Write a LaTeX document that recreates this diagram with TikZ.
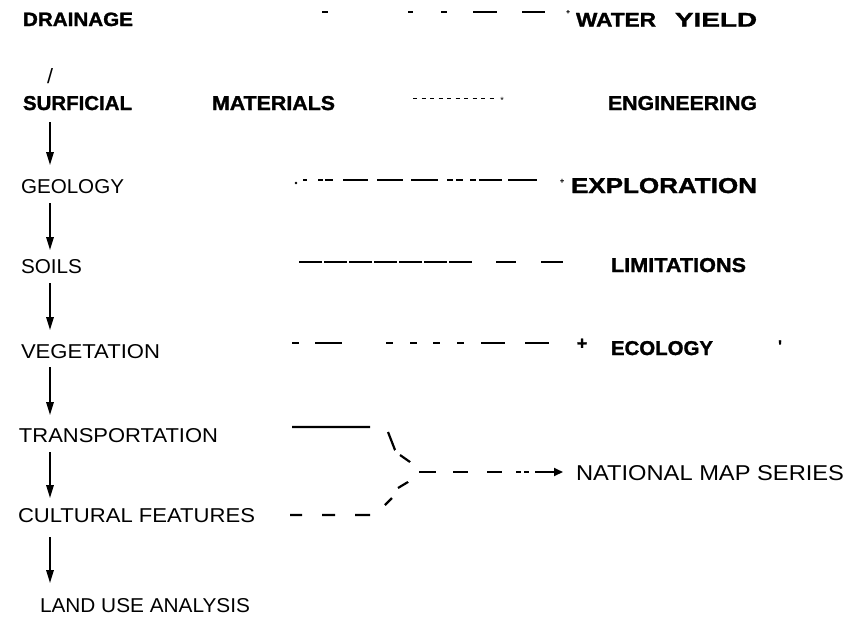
\documentclass[tikz,border=0pt]{standalone}
\usepackage{fontspec}
\setmainfont{Liberation Sans}
\newfontfamily\hbold[FakeBold=1.3]{Liberation Sans}
\usepackage{graphicx}
\usetikzlibrary{arrows.meta}
\newcommand{\fb}[3]{\resizebox{#1pt}{#2pt}{#3}}
\newcommand{\bt}[1]{{\hbold\bfseries #1}}
\begin{document}
\begin{tikzpicture}[x=1pt,y=-1pt,
  lbl/.style={anchor=north west,inner sep=0pt,outer sep=0pt},
  smallmark/.style={inner sep=0pt,outer sep=0pt},
  arr/.style={line width=1.6pt,-{Triangle[length=13pt,width=7.5pt]}},
  dl/.style={line width=2.2pt}]
\useasboundingbox (0,0) rectangle (846,616);
\fill[white] (0,0) rectangle (846,616);
% labels
\node[lbl] (drain) at (23,12.5) {\fb{110}{13.5}{\bt{DRAINAGE}}};
\node[lbl] (wy) at (576,13) {\fb{80}{13.5}{\bt{WATER}}\hspace{19pt}\fb{82}{13.5}{\bt{YIELD}}};
\node[lbl] (slash) at (47,68) {\fb{6}{15}{/}};
\node[lbl] (surf) at (23,96) {\fb{109}{14}{\bt{SURFICIAL}}\hspace{80pt}\fb{123}{14}{\bt{MATERIALS}}};
\node[lbl] (eng) at (608,96) {\fb{149}{14}{\bt{ENGINEERING}}};
\node[lbl] (geo) at (21,179) {\fb{103}{14}{GEOLOGY}};
\node[lbl] (expl) at (571,178) {\fb{186}{15}{\bt{EXPLORATION}}};
\node[lbl] (soils) at (21,259) {\fb{61}{14}{SOILS}};
\node[lbl] (lim) at (611,258) {\fb{135}{14}{\bt{LIMITATIONS}}};
\node[lbl] (veg) at (21,344) {\fb{139}{14}{VEGETATION}};
\node[lbl] (eco) at (611,341) {\fb{102}{14}{\bt{ECOLOGY}}};
\node[lbl] (trans) at (19,428) {\fb{199}{14}{TRANSPORTATION}};
\node[lbl] (nms) at (576,465) {\fb{268}{15}{NATIONAL MAP SERIES}};
\node[lbl] (cult) at (18,508) {\fb{237}{14}{CULTURAL FEATURES}};
\node[lbl] (land) at (40,598) {\fb{210}{14}{LAND USE ANALYSIS}};
% small marks
\node[smallmark] (plusa) at (568,12) {\fontsize{6}{6}\selectfont\bt{+}};
\node[smallmark] (star) at (502,100) {\fontsize{9}{9}\selectfont *};
\node[smallmark] (plusb) at (562,181) {\fontsize{7}{7}\selectfont\bt{+}};
\node[smallmark] (plusc) at (582,344) {\fontsize{18}{18}\selectfont\bt{+}};
\node[smallmark] (tick) at (780,346) {\fontsize{16}{16}\selectfont\bt{'}};
% column arrows
\coordinate (ax) at (50,0);
\draw[arr,shorten <=12pt,shorten >=14pt] (surf.south west -| ax) -- (geo.north west -| ax);
\draw[arr,shorten <=10pt,shorten >=9pt] (geo.south west -| ax) -- (soils.north west -| ax);
\draw[arr,shorten <=10pt,shorten >=14pt] (soils.south west -| ax) -- (veg.north west -| ax);
\draw[arr,shorten <=9pt,shorten >=13pt] (veg.south west -| ax) -- (trans.north west -| ax);
\draw[arr,shorten <=10pt,shorten >=10pt] (trans.south west -| ax) -- (cult.north west -| ax);
\draw[arr,shorten <=15pt,shorten >=15pt] (cult.south west -| ax) -- (land.north west -| ax);
% row 1: drainage -> water yield
\coordinate (r1a) at (322,12);
\coordinate (r1b) at (545,12);
\draw[dl,dash pattern=on 6pt off 80pt on 5pt off 28pt on 6pt off 26pt on 24pt off 25pt on 23pt] (r1a) -- (r1b);
% row 2: surficial materials -> engineering
\coordinate (r2a) at (413,98);
\coordinate (r2b) at (495,98);
\draw[line width=0.9pt,dash pattern=on 4pt off 4.5pt] (r2a) -- (r2b);
% row 3: geology -> exploration
\fill (296,183) circle (1.3pt);
\coordinate (r3a) at (303,180);
\coordinate (r3b) at (537,180);
\draw[dl,dash pattern=on 4pt off 11pt on 5pt off 2pt on 8pt off 10pt on 25pt off 9pt on 26pt off 8pt on 27pt off 9pt on 6pt off 3pt on 7pt off 7pt on 6pt off 3pt on 23pt off 6pt on 29pt] (r3a) -- (r3b);
% row 4: soils -> limitations
\coordinate (r4a) at (299,262);
\coordinate (r4b) at (563,262);
\draw[dl,dash pattern=on 23pt off 2pt on 23pt off 2pt on 23pt off 2pt on 23pt off 2pt on 23pt off 2pt on 23pt off 2pt on 23pt off 24pt on 20pt off 25pt on 22pt] (r4a) -- (r4b);
% row 5: vegetation -> ecology
\coordinate (r5a) at (292,343);
\coordinate (r5b) at (549,343);
\draw[dl,dash pattern=on 7pt off 16pt on 27pt off 44pt on 7pt off 17pt on 7pt off 16pt on 7pt off 17pt on 7pt off 17pt on 24pt off 20pt on 24pt] (r5a) -- (r5b);
% transportation & cultural features -> national map series
\coordinate (jn) at (418,471);
\coordinate (ta) at (292,427);
\coordinate (ca) at (290,515);
\draw[dl,dash pattern=on 78pt off 18.7pt on 19.3pt off 7.1pt on 12.2pt off 30pt]
  (ta) -- (370,427) -- (388,432) -- (395,450) -- (400,455) -- (410,462) -- (jn);
\draw[dl,dash pattern=on 12pt off 20pt on 13pt off 20pt on 15pt off 18pt on 9.9pt off 11.7pt on 11.7pt off 30pt]
  (ca) -- (370,515) -- (385,505) -- (392,498) -- (398,488) -- (408,482) -- (jn);
\coordinate (ma) at (419,472);
\coordinate (mb) at (535,472);
\draw[dl,dash pattern=on 17pt off 17pt on 15pt off 19pt on 15pt off 14pt on 5pt off 3pt on 5pt off 6pt] (ma) -- (mb);
\draw[line width=2pt,-{Triangle[length=9pt,width=8pt]},shorten >=13pt] (mb) -- (nms.west |- mb);
\end{tikzpicture}
\end{document}
